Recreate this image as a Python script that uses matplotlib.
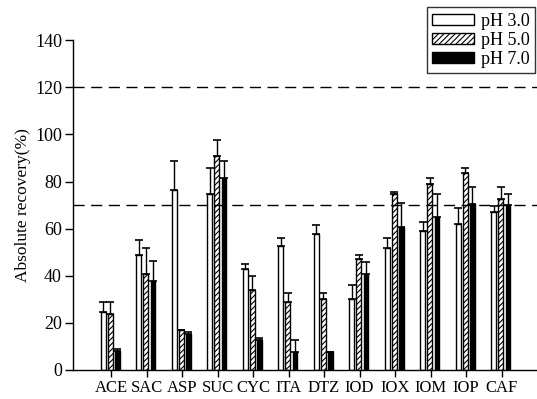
import numpy as np
import matplotlib.pyplot as plt

plt.rcParams['font.family'] = ['Liberation Serif', 'DejaVu Serif']
plt.rcParams['hatch.linewidth'] = 0.8

compounds = ["ACE", "SAC", "ASP", "SUC", "CYC", "ITA", "DTZ", "IOD", "IOX", "IOM", "IOP", "CAF"]
ph3 = [24.7, 49.0, 76.6, 74.8, 42.8, 52.6, 57.7, 29.9, 51.8, 59.0, 61.8, 66.9]
ph3_top = [28.9, 55.0, 88.8, 85.7, 45.0, 56.0, 61.7, 36.0, 56.0, 62.8, 68.9, 69.6]
ph5 = [23.8, 40.9, 16.9, 90.7, 33.9, 28.8, 30.1, 46.9, 74.8, 78.9, 83.8, 72.7]
ph5_top = [28.9, 51.8, 16.9, 97.8, 39.9, 32.6, 32.6, 49.0, 75.6, 81.6, 85.7, 77.6]
ph7 = [8.2, 37.8, 15.1, 81.6, 12.7, 7.8, 7.8, 40.9, 60.7, 64.9, 70.6, 70.0]
ph7_top = [8.7, 46.1, 15.9, 88.8, 13.7, 12.7, 7.8, 45.9, 70.7, 74.9, 77.6, 74.9]
ref_lines = [120, 70]

x = np.arange(len(compounds))
w = 0.13

fig = plt.figure(figsize=(5.37, 3.99), dpi=100)
ax = fig.add_axes([0.136, 0.073, 0.864, 0.826])

series = [
    (ph3, ph3_top, -0.22, dict(facecolor="white", hatch=None), "pH 3.0"),
    (ph5, ph5_top, -0.02, dict(facecolor="white", hatch="//////"), "pH 5.0"),
    (ph7, ph7_top, 0.18, dict(facecolor="black", hatch=None), "pH 7.0"),
]
for vals, tops, off, style, lab in series:
    vals = np.array(vals)
    err = np.array(tops) - vals
    ax.bar(x + off, vals, w, edgecolor="black", linewidth=1.0, label=lab, **style)
    ax.errorbar(x + off, vals, yerr=[np.zeros_like(err), err], fmt="none",
                ecolor="black", elinewidth=1.0, capsize=3, capthick=1.2)

# dashed reference lines
for v in ref_lines:
    ax.axhline(v, color="black", linestyle=(0, (8, 4.7)), linewidth=1.0)

ax.set_xlim(-1.07, 12.0)
ax.set_ylim(0, 140)
ax.set_yticks(np.arange(0, 141, 20))
ax.set_xticks(x)
ax.set_xticklabels(compounds)
ax.tick_params(axis="both", direction="out", width=1.0, pad=2)
ax.tick_params(axis="y", length=6, labelsize=13)
ax.tick_params(axis="x", length=5, labelsize=12)
ax.spines["top"].set_visible(False)
ax.spines["right"].set_visible(False)
ax.spines["left"].set_linewidth(1.0)
ax.spines["bottom"].set_linewidth(1.0)
ax.set_ylabel("Absolute recovery(%)", fontsize=12.5, labelpad=3)

leg = fig.legend(loc="upper right", bbox_to_anchor=(0.997, 0.982), fontsize=13,
                 frameon=True, fancybox=False, edgecolor="black",
                 handlelength=2.3, handleheight=0.6, borderpad=0.3,
                 labelspacing=0.12, handletextpad=0.4, borderaxespad=0)
leg.get_frame().set_linewidth(1.0)

fig.savefig("out.png", dpi=100)
